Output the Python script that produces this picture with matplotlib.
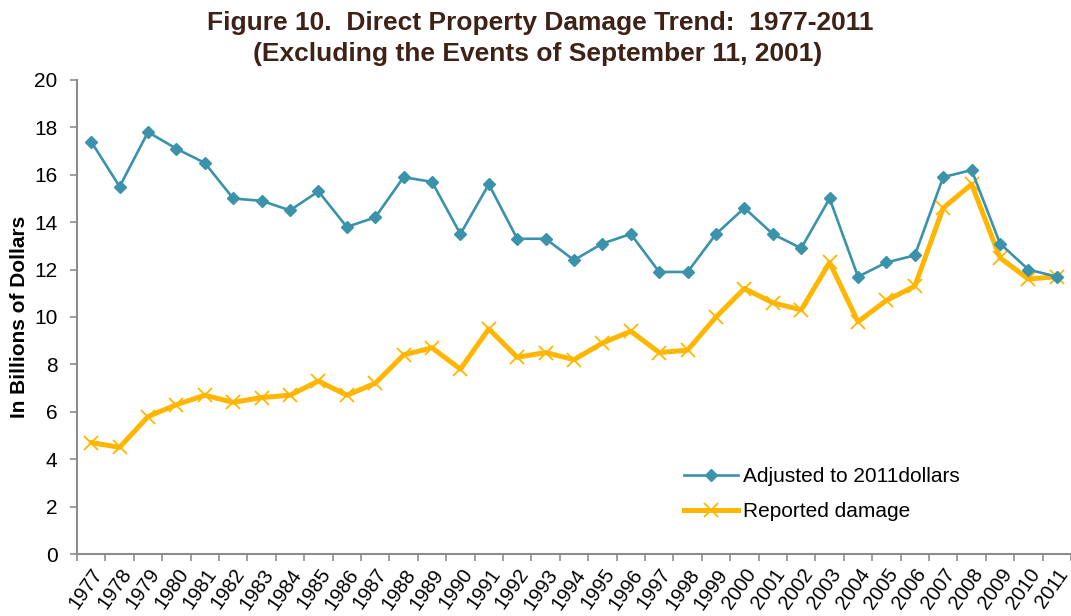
import numpy as np
import matplotlib
matplotlib.use("Agg")
import matplotlib.pyplot as plt

plt.rcParams["font.family"] = ["Liberation Sans", "DejaVu Sans"]

years = [str(y) for y in range(1977, 2012)]

adjusted = [17.4, 15.5, 17.8, 17.1, 16.5, 15.0, 14.9, 14.5, 15.3, 13.8,
            14.2, 15.9, 15.7, 13.5, 15.6, 13.3, 13.3, 12.4, 13.1, 13.5,
            11.9, 11.9, 13.5, 14.6, 13.5, 12.9, 15.0, 11.7, 12.3, 12.6,
            15.9, 16.2, 13.1, 12.0, 11.7]

reported = [4.7, 4.5, 5.8, 6.3, 6.7, 6.4, 6.6, 6.7, 7.3, 6.7,
            7.2, 8.4, 8.7, 7.8, 9.5, 8.3, 8.5, 8.2, 8.9, 9.4,
            8.5, 8.6, 10.0, 11.2, 10.6, 10.3, 12.3, 9.8, 10.7, 11.3,
            14.6, 15.6, 12.5, 11.6, 11.7]

yticks = list(range(0, 21, 2))

TEAL = "#3A92AB"
ORANGE = "#FFB600"
GREY = "#8C8C8C"
TITLE = "#3F2217"

fig = plt.figure(figsize=(10.71, 6.16), dpi=100)
ax = fig.add_axes([0.0719, 0.1006, 0.9281, 0.7696])

x = np.arange(len(years))

ax.plot(x, adjusted, color=TEAL, linewidth=1.9, marker="D", markersize=6,
        label="Adjusted to 2011dollars", zorder=3)
ax.plot(x, reported, color=ORANGE, linewidth=3.6, marker="x", markersize=10,
        markeredgewidth=1.3, label="Reported damage", zorder=2)

ax.set_xlim(-0.5, len(years) - 0.5)
ax.set_ylim(0, 20)
ax.set_yticks(yticks)
ax.set_yticklabels([str(v) for v in yticks], fontsize=15)

# ticks between categories, labels at category centres
ax.set_xticks(np.arange(len(years) + 1) - 0.5)
ax.set_xticklabels([])
ax.set_xticks(x, minor=True)
ax.set_xticklabels(years, minor=True, rotation=55, ha="right", va="top",
                   rotation_mode="anchor", fontsize=14.5)
ax.tick_params(axis="x", which="minor", length=0, pad=8)
ax.tick_params(axis="x", which="major", length=5, width=1.2, color=GREY)
ax.tick_params(axis="y", length=5, width=1.2, color=GREY, pad=9)

for side in ["top", "right"]:
    ax.spines[side].set_visible(False)
for side in ["left", "bottom"]:
    ax.spines[side].set_color(GREY)
    ax.spines[side].set_linewidth(1.5)

ax.set_ylabel("In Billions of Dollars", fontsize=15, fontweight="bold")
ax.yaxis.set_label_coords(-0.048, 0.5)

fig.text(0.504, 0.963, "Figure 10.  Direct Property Damage Trend:  1977-2011",
         ha="center", va="center", fontsize=19, fontweight="bold",
         color=TITLE)
fig.text(0.502, 0.913, "(Excluding the Events of September 11, 2001)",
         ha="center", va="center", fontsize=19, fontweight="bold",
         color=TITLE)

ax.legend(loc="lower left", bbox_to_anchor=(0.592, 0.03), frameon=False,
          fontsize=15, handlelength=2.6, handletextpad=0.2,
          labelspacing=0.75)

fig.savefig("out.png", dpi=100)
